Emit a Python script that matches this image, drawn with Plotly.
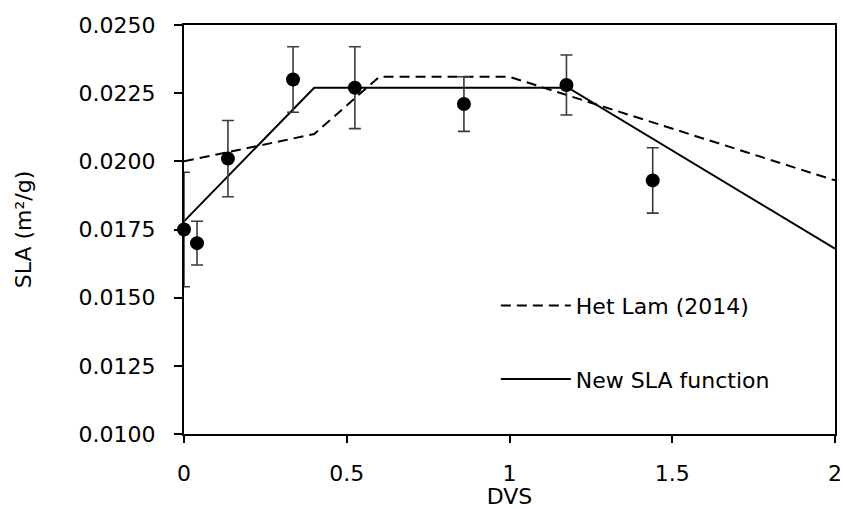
import plotly.graph_objects as go

# Observed specific leaf area vs development stage (mean ± error)
dvs_obs = [0.0, 0.04, 0.135, 0.335, 0.525, 0.86, 1.175, 1.44]
sla_obs = [0.0175, 0.0170, 0.0201, 0.0230, 0.0227, 0.0221, 0.0228, 0.0193]
sla_err = [0.0021, 0.0008, 0.0014, 0.0012, 0.0015, 0.0010, 0.0011, 0.0012]

# Het Lam (2014) SLA function
dvs_hetlam = [0.0, 0.4, 0.6, 1.0, 2.0]
sla_hetlam = [0.0200, 0.0210, 0.0231, 0.0231, 0.0193]

# New SLA function
dvs_new = [0.0, 0.4, 1.18, 2.0]
sla_new = [0.0178, 0.0227, 0.0227, 0.0168]

x_ticks = [0, 0.5, 1, 1.5, 2]
x_ticklabels = ["0", "0.5", "1", "1.5", "2"]
y_ticks = [0.0100, 0.0125, 0.0150, 0.0175, 0.0200, 0.0225, 0.0250]

FONT = "DejaVu Sans"
FS = 22

fig = go.Figure()

fig.add_trace(go.Scatter(
    x=dvs_hetlam, y=sla_hetlam, mode="lines",
    name="Het Lam (2014)", legendgroup="a",
    line=dict(color="black", width=2, dash="10px,6px"),
))
fig.add_trace(go.Scatter(
    x=dvs_new, y=sla_new, mode="lines",
    name="New SLA function", legendgroup="b",
    line=dict(color="black", width=2),
))
fig.add_trace(go.Scatter(
    x=dvs_obs, y=sla_obs, mode="markers", showlegend=False,
    marker=dict(color="black", size=14),
    error_y=dict(type="data", array=sla_err, visible=True,
                 color="#3a3a3a", thickness=1.6, width=6),
    cliponaxis=False,
))

fig.update_layout(
    width=843, height=509,
    margin=dict(l=184, r=8, t=25, b=75),
    paper_bgcolor="white", plot_bgcolor="white",
    font=dict(family=FONT, size=FS, color="black"),
    showlegend=True,
    legend=dict(
        x=0.479, y=0.365, xanchor="left", yanchor="top",
        bgcolor="rgba(0,0,0,0)", traceorder="grouped",
        tracegroupgap=42, itemwidth=70,
        font=dict(family=FONT, size=FS, color="black"),
    ),
)

fig.update_xaxes(
    range=[0, 2], tickvals=x_ticks, ticktext=x_ticklabels,
    showgrid=False, zeroline=False,
    showline=True, linecolor="black", linewidth=2, mirror=True,
    ticks="outside", ticklen=7, tickwidth=2, tickcolor="black",
    ticklabelstandoff=12,
    title=dict(text="DVS", standoff=9, font=dict(family=FONT, size=FS)),
    automargin=False,
)
fig.update_yaxes(
    range=[0.0100, 0.0250], tickvals=y_ticks, tickformat=".4f",
    showgrid=False, zeroline=False,
    showline=True, linecolor="black", linewidth=2, mirror=True,
    ticks="outside", ticklen=8, tickwidth=2, tickcolor="black",
    ticklabelstandoff=14,
    title=dict(text="SLA (m²/g)", standoff=41, font=dict(family=FONT, size=FS)),
    automargin=False,
)

fig.write_html("out.html")
